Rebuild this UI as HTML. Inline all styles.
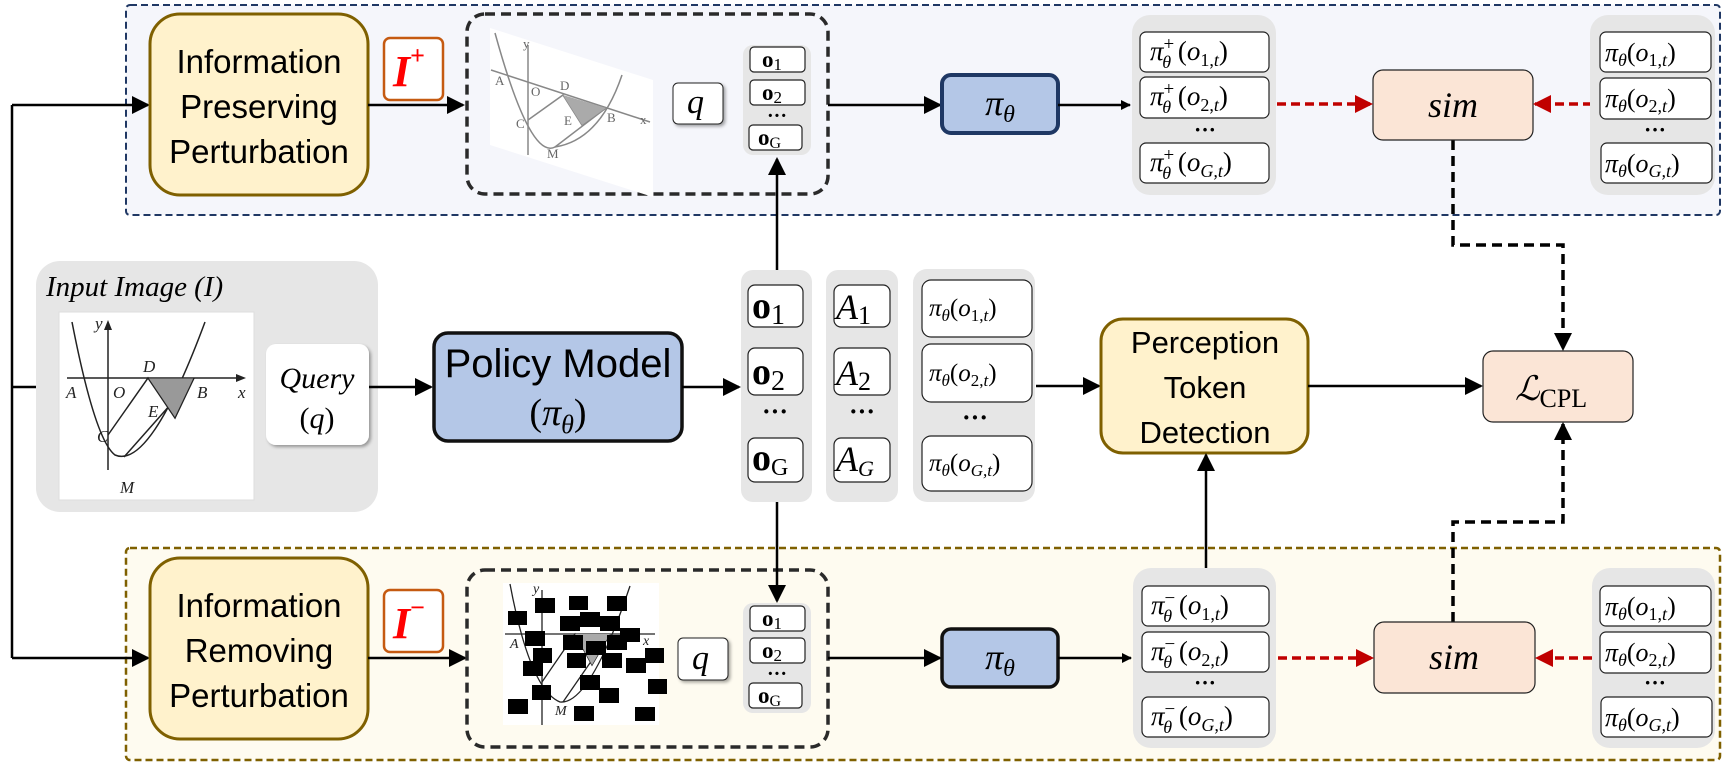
<!DOCTYPE html>
<html><head><meta charset="utf-8"><style>
html,body{margin:0;padding:0;background:#fff;}
svg{display:block;}
.s{font-family:"Liberation Sans",sans-serif;}
.m{font-family:"Liberation Serif","DejaVu Serif",serif;font-style:italic;}
.b{font-family:"Liberation Serif","DejaVu Serif",serif;font-weight:bold;}
</style></head><body>
<svg width="1728" height="768" viewBox="0 0 1728 768" xmlns="http://www.w3.org/2000/svg">
<defs>
<marker id="ar" markerWidth="10" markerHeight="10" refX="9" refY="5" orient="auto" markerUnits="userSpaceOnUse"><path d="M0,0 L10,5 L0,10 z" fill="#000"/></marker>
<marker id="ab" markerWidth="18" markerHeight="18" refX="16" refY="9" orient="auto" markerUnits="userSpaceOnUse"><path d="M0,0 L18,9 L0,18 z" fill="#000"/></marker>
<marker id="rr" markerWidth="18" markerHeight="18" refX="16" refY="9" orient="auto" markerUnits="userSpaceOnUse"><path d="M0,0 L18,9 L0,18 z" fill="#c00000"/></marker>
<filter id="sh" x="-10%" y="-10%" width="130%" height="130%"><feDropShadow dx="2" dy="2" stdDeviation="1.5" flood-color="#000" flood-opacity="0.35"/></filter>
</defs>

<rect x="126" y="5" width="1594" height="210" rx="4" fill="#f5f6fb" stroke="#203864" stroke-width="2" stroke-dasharray="7,4"/>
<rect x="126" y="548" width="1594" height="212" rx="4" fill="#fefbf0" stroke="#7f6000" stroke-width="2.5" stroke-dasharray="7,4"/>

<path d="M12,105 V658" stroke="#000" stroke-width="2.5" fill="none"/>
<path d="M12,387 H36" stroke="#000" stroke-width="2.5"/>
<path d="M12,105 H148" stroke="#000" stroke-width="2.5" marker-end="url(#ab)"/>
<path d="M12,658 H148" stroke="#000" stroke-width="2.5" marker-end="url(#ab)"/>

<rect x="150" y="14" width="218" height="181" rx="30" fill="#fff2cc" stroke="#7f6000" stroke-width="3"/>
<text class="s" font-size="33" text-anchor="middle"><tspan x="259" y="73">Information</tspan><tspan x="259" y="118">Preserving</tspan><tspan x="259" y="163">Perturbation</tspan></text>
<rect x="150" y="558" width="218" height="181" rx="30" fill="#fff2cc" stroke="#7f6000" stroke-width="3"/>
<text class="s" font-size="33" text-anchor="middle"><tspan x="259" y="617">Information</tspan><tspan x="259" y="662">Removing</tspan><tspan x="259" y="707">Perturbation</tspan></text>

<path d="M368,105 H463" stroke="#000" stroke-width="2.5" marker-end="url(#ab)"/>
<path d="M368,658 H465" stroke="#000" stroke-width="2.5" marker-end="url(#ab)"/>
<rect x="384" y="38" width="59" height="62" rx="6" fill="#fff" stroke="#c55a11" stroke-width="2.5"/>
<text class="m" font-weight="bold" font-size="44" fill="#ff0000" x="393" y="86">I<tspan font-size="26" dy="-22" font-style="normal">+</tspan></text>
<rect x="384" y="590" width="59" height="62" rx="6" fill="#fff" stroke="#c55a11" stroke-width="2.5"/>
<text class="m" font-weight="bold" font-size="44" fill="#ff0000" x="393" y="638">I<tspan font-size="26" dy="-22" font-style="normal">−</tspan></text>

<rect x="467" y="14" width="361" height="180" rx="18" fill="none" stroke="#2a2a2a" stroke-width="3.5" stroke-dasharray="10,6"/>
<rect x="467" y="570" width="361" height="177" rx="18" fill="none" stroke="#2a2a2a" stroke-width="3.5" stroke-dasharray="10,6"/>

<polygon points="490,28 653,80 653,197 490,145" fill="#fff"/>
<g stroke="#888" stroke-width="1.5" fill="none">
<path d="M495,33 Q530,160 555,147 Q600,140 622,75"/>
<path d="M528,45 V155"/>
<path d="M491,70 L650,122"/>
<path d="M528,120 L563,95 L582,125 L606,108"/>
<path d="M555,147 L606,108"/>
</g>
<polygon points="563,95 606,108 582,125" fill="#aaa"/>
<g font-family="Liberation Serif,serif" font-size="13" fill="#666"><text x="495" y="85">A</text><text x="531" y="96">O</text><text x="560" y="90">D</text><text x="516" y="128">C</text><text x="564" y="125">E</text><text x="607" y="122">B</text><text x="547" y="158">M</text><text x="523" y="48">y</text><text x="640" y="124">x</text></g>

<rect x="36" y="261" width="342" height="251" rx="24" fill="#e6e6e6"/>
<text class="m" font-size="29" x="46" y="296">Input Image (I)</text>
<rect x="59" y="312" width="195" height="188" fill="#fff" stroke="#ddd"/>
<g stroke="#222" stroke-width="1.5" fill="none">
<path d="M72,322 Q95,440 115,455 Q150,470 205,322"/>
<path d="M108,470 V325"/>
<path d="M67,378 H240"/>
<path d="M108,435 L148,378 L175,418 L194,378"/>
<path d="M124,457 L194,378"/>
</g>
<path d="M104,330 L108,320 L112,330 z M236,374 L246,378 L236,382 z" fill="#222"/>
<polygon points="148,378 194,378 175,418" fill="#999" stroke="#222"/>
<g class="m" font-size="17" fill="#222"><text x="66" y="398">A</text><text x="113" y="398">O</text><text x="143" y="372">D</text><text x="197" y="398">B</text><text x="238" y="398">x</text><text x="148" y="417">E</text><text x="97" y="442">C</text><text x="120" y="493">M</text><text x="95" y="329">y</text></g>

<rect x="266" y="344" width="103" height="101" rx="10" fill="#fff" filter="url(#sh)"/>
<text class="m" font-size="30" text-anchor="middle"><tspan x="317" y="388">Query</tspan><tspan x="317" y="428" font-style="normal">(</tspan><tspan>q</tspan><tspan font-style="normal">)</tspan></text>

<path d="M369,387 H431" stroke="#000" stroke-width="2.5" marker-end="url(#ab)"/>
<rect x="434" y="333" width="248" height="108" rx="14" fill="#b4c7e7" stroke="#111" stroke-width="3.5"/>
<text class="s" font-size="40" text-anchor="middle" x="558" y="377">Policy Model</text>
<text text-anchor="middle" x="558" y="425" font-size="38" font-family="Liberation Serif,serif">(<tspan font-style="italic">π</tspan><tspan font-style="italic" font-size="26" dy="8">θ</tspan><tspan dy="-8">)</tspan></text>
<path d="M682,387 H739" stroke="#000" stroke-width="2.5" marker-end="url(#ab)"/>

<rect x="741" y="270" width="71" height="232" rx="12" fill="#e6e6e6"/>
<g fill="#fff" stroke="#222" stroke-width="1.2">
<rect x="748" y="285" width="55" height="42" rx="7"/><rect x="748" y="348" width="55" height="47" rx="7"/><rect x="748" y="438" width="55" height="44" rx="7"/>
</g>
<g font-size="38"><text class="b" x="752" y="318">o<tspan font-weight="normal" font-size="28" dy="6">1</tspan></text>
<text class="b" x="752" y="384">o<tspan font-weight="normal" font-size="28" dy="6">2</tspan></text>
<text class="b" x="752" y="470">o<tspan font-weight="normal" font-size="24" dy="5">G</tspan></text></g>
<text class="b" x="775" y="420" font-size="26" text-anchor="middle">···</text>

<rect x="826" y="270" width="72" height="232" rx="12" fill="#e6e6e6"/>
<g fill="#fff" stroke="#222" stroke-width="1.2">
<rect x="834" y="285" width="56" height="42" rx="7"/><rect x="834" y="348" width="56" height="47" rx="7"/><rect x="834" y="438" width="56" height="44" rx="7"/>
</g>
<g class="m" font-size="36"><text x="836" y="319">A<tspan font-style="normal" font-size="26" dy="5">1</tspan></text>
<text x="836" y="385">A<tspan font-style="normal" font-size="26" dy="5">2</tspan></text>
<text x="836" y="471">A<tspan font-size="22" dy="5">G</tspan></text></g>
<text class="b" x="862" y="420" font-size="26" text-anchor="middle">···</text>

<rect x="913" y="269" width="122" height="233" rx="14" fill="#e6e6e6"/>
<g fill="#fff" stroke="#222" stroke-width="1.2">
<rect x="922" y="280" width="110" height="57" rx="9"/><rect x="922" y="344" width="110" height="58" rx="9"/><rect x="922" y="436" width="110" height="55" rx="9"/>
</g>
<g font-family="Liberation Serif,serif" font-size="25" font-style="italic">
<text x="929" y="316">π<tspan font-size="17" dy="5">θ</tspan><tspan dy="-5" font-style="normal">(</tspan>o<tspan font-size="17" dy="5" font-style="normal">1,</tspan><tspan font-size="17">t</tspan><tspan dy="-5" font-style="normal">)</tspan></text>
<text x="929" y="381">π<tspan font-size="17" dy="5">θ</tspan><tspan dy="-5" font-style="normal">(</tspan>o<tspan font-size="17" dy="5" font-style="normal">2,</tspan><tspan font-size="17">t</tspan><tspan dy="-5" font-style="normal">)</tspan></text>
<text x="929" y="471">π<tspan font-size="17" dy="5">θ</tspan><tspan dy="-5" font-style="normal">(</tspan>o<tspan font-size="17" dy="5">G,t</tspan><tspan dy="-5" font-style="normal">)</tspan></text>
</g>
<text class="b" x="975" y="426" font-size="26" text-anchor="middle">···</text>

<path d="M1036,386 H1099" stroke="#000" stroke-width="2.5" marker-end="url(#ab)"/>
<rect x="1101" y="319" width="207" height="134" rx="22" fill="#fff2cc" stroke="#7f6000" stroke-width="3"/>
<text class="s" font-size="31" text-anchor="middle"><tspan x="1205" y="353">Perception</tspan><tspan x="1205" y="398">Token</tspan><tspan x="1205" y="443">Detection</tspan></text>
<path d="M1308,386 H1481" stroke="#000" stroke-width="2.5" marker-end="url(#ab)"/>
<rect x="1483" y="351" width="150" height="71" rx="10" fill="#fbe5d6" stroke="#222" stroke-width="1.2"/>
<text x="1515" y="400" font-family="DejaVu Serif,serif" font-style="italic" font-size="34">ℒ<tspan font-style="normal" font-family="Liberation Serif,serif" font-size="26" dy="7">CPL</tspan></text>

<path d="M777,270 V159" stroke="#000" stroke-width="2.5" marker-end="url(#ab)"/>
<path d="M777,502 V601" stroke="#000" stroke-width="2.5" marker-end="url(#ab)"/>
<path d="M1206,568 V455" stroke="#000" stroke-width="2.5" marker-end="url(#ab)"/>
<path d="M1453,140 V245 H1563 V349" stroke="#000" stroke-width="3.5" fill="none" stroke-dasharray="10,6" marker-end="url(#ab)"/>
<path d="M1453,622 V522 H1563 V424" stroke="#000" stroke-width="3.5" fill="none" stroke-dasharray="10,6" marker-end="url(#ab)"/>

<rect x="673" y="83" width="50" height="41" rx="5" fill="#fff" stroke="#222" filter="url(#sh)"/>
<text class="m" font-size="34" x="687" y="113">q</text>
<rect x="743" y="45" width="68" height="110" rx="10" fill="#e6e6e6"/>
<g fill="#fff" stroke="#222" stroke-width="1.2"><rect x="750" y="47" width="55" height="25" rx="4"/><rect x="750" y="80" width="55" height="25" rx="4"/><rect x="749" y="125" width="53" height="25" rx="4"/></g>
<g font-size="23"><text class="b" x="762" y="67">o<tspan font-weight="normal" font-size="17" dy="3">1</tspan></text><text class="b" x="762" y="100">o<tspan font-weight="normal" font-size="17" dy="3">2</tspan></text><text class="b" x="758" y="145">o<tspan font-weight="normal" font-size="16" dy="3">G</tspan></text></g>
<text class="b" x="777" y="122" font-size="20" text-anchor="middle">···</text>

<rect x="503" y="583" width="156" height="142" fill="#fff"/>
<g stroke="#222" stroke-width="1.3" fill="none">
<path d="M510,584 Q530,690 560,702 Q590,705 630,586"/>
<path d="M542,725 V590"/>
<path d="M505,634 H655"/>
<path d="M542,682 L575,634 L592,665 L610,634"/>
<path d="M563,702 L610,634"/>
</g>
<polygon points="575,634 610,634 592,665" fill="#aaa"/>
<g font-family="Liberation Serif,serif" font-style="italic" font-size="14" fill="#222"><text x="510" y="648">A</text><text x="643" y="645">x</text><text x="533" y="593">y</text><text x="555" y="715">M</text></g>
<g fill="#000">
<rect x="508" y="611" width="19" height="14"/><rect x="535" y="598" width="20" height="15"/><rect x="569" y="596" width="19" height="14"/><rect x="607" y="596" width="20" height="15"/>
<rect x="560" y="616" width="20" height="15"/><rect x="580" y="612" width="20" height="15"/><rect x="600" y="616" width="20" height="15"/>
<rect x="525" y="631" width="20" height="15"/><rect x="563" y="635" width="20" height="15"/><rect x="586" y="641" width="20" height="14"/><rect x="607" y="635" width="20" height="15"/><rect x="620" y="628" width="20" height="14"/>
<rect x="533" y="648" width="19" height="15"/><rect x="567" y="653" width="19" height="15"/><rect x="602" y="653" width="20" height="15"/><rect x="626" y="658" width="20" height="15"/><rect x="645" y="648" width="19" height="15"/>
<rect x="523" y="661" width="20" height="15"/><rect x="580" y="675" width="20" height="15"/><rect x="648" y="679" width="19" height="15"/>
<rect x="532" y="685" width="19" height="15"/><rect x="599" y="688" width="20" height="15"/><rect x="508" y="699" width="20" height="15"/><rect x="574" y="706" width="20" height="15"/><rect x="635" y="707" width="20" height="14"/>
</g>
<rect x="678" y="638" width="50" height="42" rx="5" fill="#fff" stroke="#222" filter="url(#sh)"/>
<text class="m" font-size="34" x="692" y="669">q</text>
<rect x="743" y="603" width="68" height="110" rx="10" fill="#e6e6e6"/>
<g fill="#fff" stroke="#222" stroke-width="1.2"><rect x="750" y="606" width="55" height="25" rx="4"/><rect x="750" y="638" width="55" height="25" rx="4"/><rect x="749" y="683" width="53" height="25" rx="4"/></g>
<g font-size="23"><text class="b" x="762" y="626">o<tspan font-weight="normal" font-size="17" dy="3">1</tspan></text><text class="b" x="762" y="658">o<tspan font-weight="normal" font-size="17" dy="3">2</tspan></text><text class="b" x="758" y="703">o<tspan font-weight="normal" font-size="16" dy="3">G</tspan></text></g>
<text class="b" x="777" y="680" font-size="20" text-anchor="middle">···</text>

<path d="M828,105 H940" stroke="#000" stroke-width="2.5" marker-end="url(#ab)"/>
<rect x="942" y="75" width="116" height="58" rx="9" fill="#b4c7e7" stroke="#1f3864" stroke-width="4"/>
<text x="1000" y="115" text-anchor="middle" font-family="Liberation Serif,serif" font-style="italic" font-size="36">π<tspan font-size="24" dy="7">θ</tspan></text>
<path d="M1058,105 H1130" stroke="#000" stroke-width="2.5" marker-end="url(#ar)"/>
<path d="M828,658 H940" stroke="#000" stroke-width="2.5" marker-end="url(#ab)"/>
<rect x="942" y="629" width="116" height="58" rx="9" fill="#b4c7e7" stroke="#111" stroke-width="3.5"/>
<text x="1000" y="669" text-anchor="middle" font-family="Liberation Serif,serif" font-style="italic" font-size="36">π<tspan font-size="24" dy="7">θ</tspan></text>
<path d="M1058,658 H1131" stroke="#000" stroke-width="2.5" marker-end="url(#ar)"/>

<rect x="1132" y="15" width="144" height="180" rx="18" fill="#e6e6e6"/>
<g fill="#fff" stroke="#222" stroke-width="1.2"><rect x="1140" y="32" width="129" height="40" rx="6"/><rect x="1140" y="77" width="129" height="41" rx="6"/><rect x="1140" y="143" width="129" height="40" rx="6"/></g>
<g font-family="Liberation Serif,serif" font-size="27">
<text x="1150" y="60"><tspan font-style="italic">π</tspan><tspan font-size="19" dy="-10">+</tspan><tspan font-size="18" font-style="italic" dx="-12" dy="18">θ</tspan><tspan dy="-8"> (</tspan><tspan font-style="italic">o</tspan><tspan font-size="18" dy="6">1,</tspan><tspan font-size="18" font-style="italic">t</tspan><tspan dy="-6">)</tspan></text>
<text x="1150" y="105"><tspan font-style="italic">π</tspan><tspan font-size="19" dy="-10">+</tspan><tspan font-size="18" font-style="italic" dx="-12" dy="18">θ</tspan><tspan dy="-8"> (</tspan><tspan font-style="italic">o</tspan><tspan font-size="18" dy="6">2,</tspan><tspan font-size="18" font-style="italic">t</tspan><tspan dy="-6">)</tspan></text>
<text x="1150" y="171"><tspan font-style="italic">π</tspan><tspan font-size="19" dy="-10">+</tspan><tspan font-size="18" font-style="italic" dx="-12" dy="18">θ</tspan><tspan dy="-8"> (</tspan><tspan font-style="italic">o</tspan><tspan font-size="18" font-style="italic" dy="6">G,t</tspan><tspan dy="-6">)</tspan></text>
</g>
<text class="b" x="1205" y="137" font-size="22" text-anchor="middle">···</text>

<rect x="1133" y="568" width="143" height="180" rx="18" fill="#e6e6e6"/>
<g fill="#fff" stroke="#222" stroke-width="1.2"><rect x="1142" y="586" width="127" height="40" rx="6"/><rect x="1142" y="632" width="127" height="40" rx="6"/><rect x="1142" y="697" width="127" height="40" rx="6"/></g>
<g font-family="Liberation Serif,serif" font-size="27">
<text x="1151" y="614"><tspan font-style="italic">π</tspan><tspan font-size="19" dy="-10">−</tspan><tspan font-size="18" font-style="italic" dx="-12" dy="18">θ</tspan><tspan dy="-8"> (</tspan><tspan font-style="italic">o</tspan><tspan font-size="18" dy="6">1,</tspan><tspan font-size="18" font-style="italic">t</tspan><tspan dy="-6">)</tspan></text>
<text x="1151" y="660"><tspan font-style="italic">π</tspan><tspan font-size="19" dy="-10">−</tspan><tspan font-size="18" font-style="italic" dx="-12" dy="18">θ</tspan><tspan dy="-8"> (</tspan><tspan font-style="italic">o</tspan><tspan font-size="18" dy="6">2,</tspan><tspan font-size="18" font-style="italic">t</tspan><tspan dy="-6">)</tspan></text>
<text x="1151" y="725"><tspan font-style="italic">π</tspan><tspan font-size="19" dy="-10">−</tspan><tspan font-size="18" font-style="italic" dx="-12" dy="18">θ</tspan><tspan dy="-8"> (</tspan><tspan font-style="italic">o</tspan><tspan font-size="18" font-style="italic" dy="6">G,t</tspan><tspan dy="-6">)</tspan></text>
</g>
<text class="b" x="1205" y="690" font-size="22" text-anchor="middle">···</text>

<rect x="1373" y="70" width="160" height="70" rx="10" fill="#fbe5d6" stroke="#222" stroke-width="1.2"/>
<text class="m" font-size="36" x="1453" y="117" text-anchor="middle">sim</text>
<rect x="1374" y="622" width="161" height="71" rx="10" fill="#fbe5d6" stroke="#222" stroke-width="1.2"/>
<text class="m" font-size="36" x="1454" y="669" text-anchor="middle">sim</text>
<path d="M1277,104 H1371" stroke="#c00000" stroke-width="3.5" stroke-dasharray="9,5" marker-end="url(#rr)"/>
<path d="M1592,104 H1535" stroke="#c00000" stroke-width="3.5" stroke-dasharray="9,5" marker-end="url(#rr)"/>
<path d="M1278,658 H1372" stroke="#c00000" stroke-width="3.5" stroke-dasharray="9,5" marker-end="url(#rr)"/>
<path d="M1592,658 H1537" stroke="#c00000" stroke-width="3.5" stroke-dasharray="9,5" marker-end="url(#rr)"/>

<rect x="1590" y="15" width="125" height="180" rx="18" fill="#e6e6e6"/>
<g fill="#fff" stroke="#222" stroke-width="1.2"><rect x="1600" y="32" width="111" height="40" rx="6"/><rect x="1600" y="78" width="111" height="41" rx="6"/><rect x="1601" y="143" width="111" height="40" rx="6"/></g>
<rect x="1592" y="568" width="123" height="180" rx="18" fill="#e6e6e6"/>
<g fill="#fff" stroke="#222" stroke-width="1.2"><rect x="1600" y="586" width="111" height="40" rx="6"/><rect x="1600" y="632" width="111" height="41" rx="6"/><rect x="1601" y="697" width="111" height="40" rx="6"/></g>
<g font-family="Liberation Serif,serif" font-style="italic" font-size="26">
<text x="1605" y="61">π<tspan font-size="18" dy="5">θ</tspan><tspan dy="-5" font-style="normal">(</tspan>o<tspan font-size="18" dy="5" font-style="normal">1,</tspan><tspan font-size="18">t</tspan><tspan dy="-5" font-style="normal">)</tspan></text>
<text x="1605" y="107">π<tspan font-size="18" dy="5">θ</tspan><tspan dy="-5" font-style="normal">(</tspan>o<tspan font-size="18" dy="5" font-style="normal">2,</tspan><tspan font-size="18">t</tspan><tspan dy="-5" font-style="normal">)</tspan></text>
<text x="1605" y="172">π<tspan font-size="18" dy="5">θ</tspan><tspan dy="-5" font-style="normal">(</tspan>o<tspan font-size="18" dy="5">G,t</tspan><tspan dy="-5" font-style="normal">)</tspan></text>
<text x="1605" y="615">π<tspan font-size="18" dy="5">θ</tspan><tspan dy="-5" font-style="normal">(</tspan>o<tspan font-size="18" dy="5" font-style="normal">1,</tspan><tspan font-size="18">t</tspan><tspan dy="-5" font-style="normal">)</tspan></text>
<text x="1605" y="661">π<tspan font-size="18" dy="5">θ</tspan><tspan dy="-5" font-style="normal">(</tspan>o<tspan font-size="18" dy="5" font-style="normal">2,</tspan><tspan font-size="18">t</tspan><tspan dy="-5" font-style="normal">)</tspan></text>
<text x="1605" y="726">π<tspan font-size="18" dy="5">θ</tspan><tspan dy="-5" font-style="normal">(</tspan>o<tspan font-size="18" dy="5">G,t</tspan><tspan dy="-5" font-style="normal">)</tspan></text>
</g>
<text class="b" x="1655" y="137" font-size="22" text-anchor="middle">···</text>
<text class="b" x="1655" y="690" font-size="22" text-anchor="middle">···</text>
</svg>
</body></html>
